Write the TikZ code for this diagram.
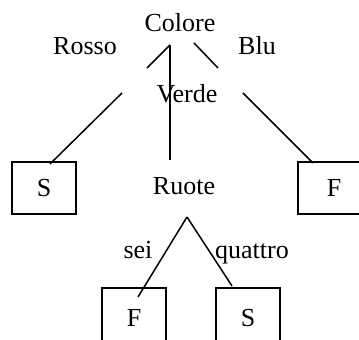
\documentclass[tikz,border=0pt]{standalone}
\usepackage{fontspec}
\setmainfont{Liberation Serif}
\begin{document}
\begin{tikzpicture}[x=0.5pt, y=-0.5pt, line width=0.75pt,
  font=\fontsize{13}{15}\selectfont,
  leaf/.style={rectangle, draw, minimum width=32pt, minimum height=26pt, inner sep=0pt}]
\clip (0,0) rectangle (359,340);

%Colore
\node[anchor=base] (colore) at (180,32) {Colore};
\node[anchor=base] (rosso) at (85,55) {Rosso};
\node[anchor=base] (blu) at (257,55) {Blu};
\node[anchor=base] (verde) at (187,103) {Verde};

%Foglie
\node[leaf] (s1) at (44,188) {S};
\node[leaf, minimum width=36pt] (f1) at (334,188) {F};
\node[leaf, minimum height=30pt] (f2) at (134,318) {F};
\node[leaf, minimum height=30pt] (s2) at (248,318) {S};

%Ruote
\node[anchor=base] (ruote) at (184,195) {Ruote};
\node[anchor=base] (sei) at (138,259) {sei};
\node[anchor=base] (quattro) at (252,259) {quattro};

%Punti
\coordinate (c0) at (170,45);
\coordinate (c1) at (147,68);
\coordinate (c2) at (194,43);
\coordinate (c3) at (218,68);
\coordinate (c4) at (170,160);
\coordinate (v1) at (122,93);
\coordinate (v2) at (50,164);
\coordinate (v3) at (243,93);
\coordinate (v4) at (313,163);
\coordinate (r0) at (187,217);
\coordinate (r1) at (138,297);
\coordinate (r2) at (232,286);

%Rami
\draw (c0) -- (c1);
\draw (c2) -- (c3);
\draw (c0) -- (c4);
\draw (v1) -- (v2);
\draw (v3) -- (v4);
\draw (r0) -- (r1);
\draw (r0) -- (r2);

\end{tikzpicture}
\end{document}
